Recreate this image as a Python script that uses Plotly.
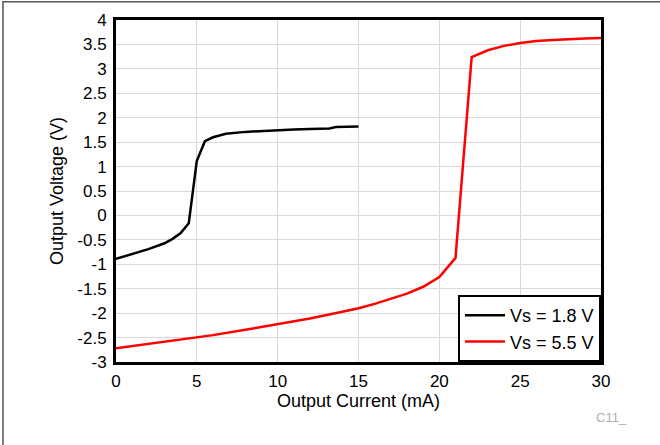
import plotly.graph_objects as go

x_18 = [0, 1, 2, 3, 3.5, 4, 4.5, 5, 5.5, 6, 6.8, 8, 9, 10, 11, 12, 13.2, 13.6, 14, 15]
y_18 = [-0.89, -0.79, -0.69, -0.57, -0.48, -0.36, -0.16, 1.12, 1.52, 1.6, 1.67, 1.71, 1.73, 1.75, 1.76, 1.77, 1.78, 1.81, 1.815, 1.82]

x_55 = [0, 2, 4, 6, 8, 10, 12, 14, 15, 16, 17, 18, 19, 20, 21, 22, 23, 24, 25, 26, 27, 28, 29, 30]
y_55 = [-2.72, -2.63, -2.54, -2.45, -2.34, -2.23, -2.11, -1.97, -1.9, -1.81, -1.71, -1.6, -1.46, -1.26, -0.87,
        3.24, 3.38, 3.47, 3.53, 3.57, 3.59, 3.61, 3.62, 3.63]

names = ["Vs = 1.8 V", "Vs = 5.5 V"]
x_ticks = [0, 5, 10, 15, 20, 25, 30]
y_ticks = [-3, -2.5, -2, -1.5, -1, -0.5, 0, 0.5, 1, 1.5, 2, 2.5, 3, 3.5, 4]
y_ticktext = ["-3", "-2.5", "-2", "-1.5", "-1", "-0.5", "0", "0.5", "1", "1.5", "2", "2.5", "3", "3.5", "4"]

fig = go.Figure()
fig.add_trace(go.Scatter(x=x_18, y=y_18, mode="lines", name=names[0],
                         line=dict(color="black", width=2.5)))
fig.add_trace(go.Scatter(x=x_55, y=y_55, mode="lines", name=names[1],
                         line=dict(color="#ff0000", width=2.5)))

font = "Liberation Sans, Arial, sans-serif"
fig.update_layout(
    width=660, height=445,
    margin=dict(l=116, r=59, t=20, b=83),
    paper_bgcolor="white", plot_bgcolor="white",
    font=dict(family=font, size=17, color="black"),
    showlegend=True,
    legend=dict(x=1, y=0, xanchor="right", yanchor="bottom",
                bgcolor="white", bordercolor="black", borderwidth=2,
                font=dict(size=18), tracegroupgap=0, itemwidth=40),
    xaxis=dict(range=[0, 30], tickvals=x_ticks, ticks="", showgrid=True,
               gridcolor="#d9d9d9", gridwidth=1, zeroline=False,
               tickfont=dict(size=17), ticklabelstandoff=2,
               showline=True, linecolor="black", linewidth=3, mirror=True,
               title=dict(text="Output Current (mA)", standoff=0, font=dict(size=18))),
    yaxis=dict(range=[-3, 4], tickvals=y_ticks, ticktext=y_ticktext, ticks="", showgrid=True,
               gridcolor="#d9d9d9", gridwidth=1, zeroline=False,
               tickfont=dict(size=17), ticklabelstandoff=3,
               showline=True, linecolor="black", linewidth=3, mirror=True,
               title=dict(text="Output Voltage (V)", standoff=10, font=dict(size=18))),
)
fig.add_annotation(text="C11_", xref="paper", yref="paper", x=1.058, y=-0.135,
                   xanchor="right", yanchor="top", showarrow=False,
                   font=dict(size=13, color="#b0b0b0"))
fig.add_shape(type="rect", xref="paper", yref="paper",
              x0=-0.233, x1=1.3, y0=-0.4, y1=1.053,
              line=dict(color="#555555", width=1.5), layer="below")
fig.write_html("out.html", config={"displayModeBar": False},
               post_script="document.body.style.margin='0';")
